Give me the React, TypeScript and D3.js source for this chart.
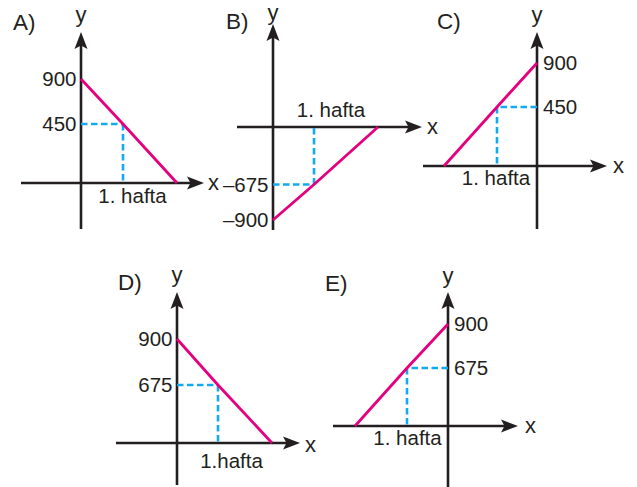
import React from "react";
import * as d3 from "d3";

// ---- data ----
const panelLabels = ["A)", "B)", "C)", "D)", "E)"];
const startValues = [900, -900, 900, 900, 900]; // value at x = 0
const weekOneValues = [450, -675, 450, 675, 675]; // value at "1. hafta"
const weekOneX = [1, 1, -1, 1, -1]; // side of the y axis where week 1 lies
const weekLabels = ["1. hafta", "1. hafta", "1. hafta", "1.hafta", "1. hafta"];
const axisNames = ["x", "y"];

// ---- layout (pixel geometry of each small schematic panel) ----
const layout = [
  { ox: 81, oy: 183, yTip: 32, yBottom: 229, xLeft: 21, xTip: 204, midPx: 59, topPx: 104, weekPx: 42, intPx: 96, labelX: 13, labelY: 30, yLabelY: 22, xLabelX: 208, xLabelY: 190, hDx: 9.5, hDy: 20 },
  { ox: 273, oy: 127, yTip: 24, yBottom: 230, xLeft: 237, xTip: 422, midPx: 57.5, topPx: 93, weekPx: 41, intPx: 105, labelX: 226, labelY: 29, yLabelY: 20, xLabelX: 427, xLabelY: 134, hDx: 17, hDy: -10 },
  { ox: 537, oy: 166, yTip: 32, yBottom: 229, xLeft: 423, xTip: 607, midPx: 59, topPx: 103, weekPx: 40, intPx: 93, labelX: 437, labelY: 29, yLabelY: 22, xLabelX: 613, xLabelY: 173, hDx: -1, hDy: 19 },
  { ox: 177, oy: 443, yTip: 292, yBottom: 485, xLeft: 116, xTip: 300, midPx: 58, topPx: 104, weekPx: 41, intPx: 95, labelX: 118, labelY: 290, yLabelY: 282, xLabelX: 305, xLabelY: 452, hDx: 13.5, hDy: 25 },
  { ox: 448, oy: 426, yTip: 292, yBottom: 487, xLeft: 333, xTip: 518, midPx: 58, topPx: 102, weekPx: 41, intPx: 93, labelX: 325, labelY: 291, yLabelY: 283, xLabelX: 525, xLabelY: 433, hDx: 0.5, hDy: 19 },
];

const AXIS = "#231f20";
const PINK = "#e5007e";
const CYAN = "#14aaf0";
const FONT = "'Liberation Sans', Arial, Helvetica, sans-serif";

const fmt = (v: number) => (v < 0 ? "\u2013" + Math.abs(v) : String(v));

function Arrow({ x, y, dir }: { x: number; y: number; dir: "up" | "right" }) {
  const p = "M0,0 L-6.5,17 L0,13.5 L6.5,17 Z";
  const rot = dir === "up" ? 0 : 90;
  return <path d={p} transform={`translate(${x},${y}) rotate(${rot})`} fill={AXIS} />;
}

function Panel({ i }: { i: number }) {
  const L = layout[i];
  const start = startValues[i];
  const mid = weekOneValues[i];
  const wx = weekOneX[i];
  const xInt = (wx * start) / (start - mid);
  const sgn = Math.sign(start);
  const sx = Math.sign(wx);

  const xScale = d3
    .scaleLinear()
    .domain([0, wx, xInt])
    .range([L.ox, L.ox + sx * L.weekPx, L.ox + sx * L.intPx]);
  const yScale = d3
    .scaleLinear()
    .domain([0, mid, start])
    .range([L.oy, L.oy - sgn * L.midPx, L.oy - sgn * L.topPx]);

  const line = d3
    .line<[number, number]>()
    .x((d) => xScale(d[0]))
    .y((d) => yScale(d[1]));

  const pts: [number, number][] = [
    [0, start],
    [wx, mid],
    [xInt, 0],
  ];
  const dashH: [number, number][] = [
    [0, mid],
    [wx, mid],
  ];
  const dashV: [number, number][] = [
    [wx, mid],
    [wx, 0],
  ];

  const tickLeft = wx > 0; // labels on the side opposite the graph
  const tickX = tickLeft ? L.ox - 4.5 : L.ox + 6;

  return (
    <g fontFamily={FONT} fill={AXIS}>
      {/* axes */}
      <line x1={L.xLeft} x2={L.xTip - 10} y1={L.oy} y2={L.oy} stroke={AXIS} strokeWidth={2.6} />
      <line x1={L.ox} x2={L.ox} y1={L.yBottom} y2={L.yTip + 10} stroke={AXIS} strokeWidth={2.6} />
      <Arrow x={L.xTip} y={L.oy} dir="right" />
      <Arrow x={L.ox} y={L.yTip} dir="up" />

      {/* dashed guides */}
      <path d={line(dashH) || ""} fill="none" stroke={CYAN} strokeWidth={2.6} strokeDasharray="6.5 3.5" />
      <path d={line(dashV) || ""} fill="none" stroke={CYAN} strokeWidth={2.6} strokeDasharray="6.5 3.5" />

      {/* the line */}
      <path d={line(pts) || ""} fill="none" stroke={PINK} strokeWidth={2.8} strokeLinejoin="round" />

      {/* tick labels */}
      {[mid, start].map((v) => (
        <text key={v} x={tickX} y={yScale(v)} dy="0.36em" fontSize={20.5} textAnchor={tickLeft ? "end" : "start"}>
          {fmt(v)}
        </text>
      ))}

      {/* week label */}
      <text x={xScale(wx) + L.hDx} y={L.oy + L.hDy} fontSize={20.5} textAnchor="middle">
        {weekLabels[i]}
      </text>

      {/* axis names */}
      <text x={L.xLabelX} y={L.xLabelY} fontSize={22}>
        {axisNames[0]}
      </text>
      <text x={L.ox} y={L.yLabelY} fontSize={22} textAnchor="middle">
        {axisNames[1]}
      </text>

      {/* panel label */}
      <text x={L.labelX} y={L.labelY} fontSize={22.5}>
        {panelLabels[i]}
      </text>
    </g>
  );
}

export default function App() {
  return (
    <svg
      width={637}
      height={487}
      viewBox="0 0 637 487"
      style={{ position: "absolute", left: 0, top: 0, background: "#fff" }}
    >
      <rect width={637} height={487} fill="#fff" />
      {panelLabels.map((_, i) => (
        <Panel key={i} i={i} />
      ))}
    </svg>
  );
}
